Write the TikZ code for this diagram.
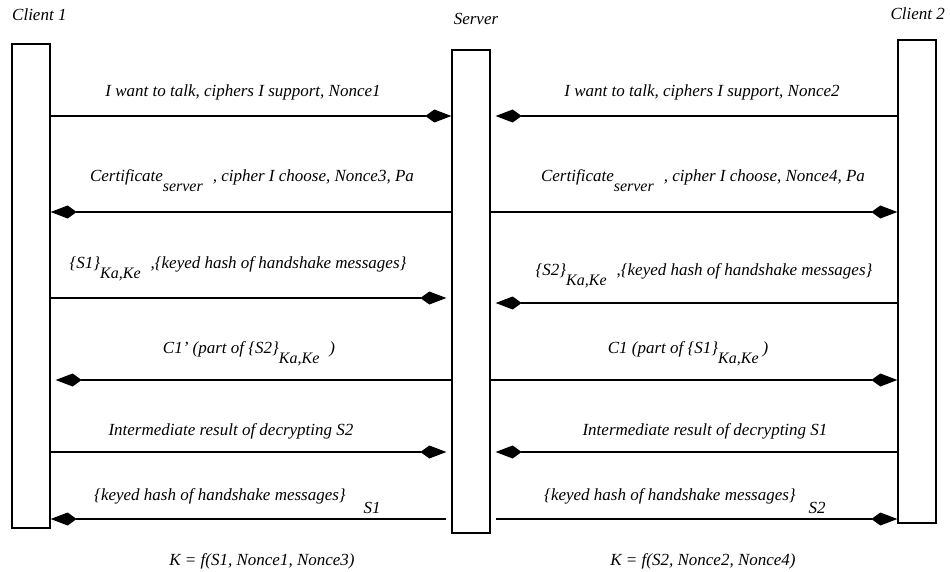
\documentclass[tikz,border=0pt]{standalone}
\usepackage{fontspec}
\setmainfont{Liberation Serif}
\usetikzlibrary{arrows.meta}
\newcommand{\lowsub}[1]{\raisebox{-10pt}{\fontsize{16}{18}\selectfont #1}}

\begin{document}
\begin{tikzpicture}[x=1pt, y=-1pt,
  every node/.style={font=\fontsize{17}{19}\selectfont\itshape, inner sep=0pt},
  lifebox/.style={draw, line width=1.3pt, minimum width=38pt},
  msg/.style={line width=1.3pt, -{Kite[length=26pt,width=13pt,inset=9pt]}}]
\useasboundingbox (0,0) rectangle (950,572);
\node [lifebox, minimum height=484pt] (c1) at (31,286) {};
\node [lifebox, minimum height=483pt] (srv) at (471,291.5) {};
\node [lifebox, minimum height=483pt] (c2) at (917,281.5) {};
\node [anchor=base west] (c1name) at (12,21) {Client 1};
\node [anchor=base] (srvname) at (476,25) {Server};
\node [anchor=base east] (c2name) at (945,20) {Client 2};

\draw [msg] (c1.east |- 0,116) -- (srv.west |- 0,116);
\draw [msg, shorten >=5pt] (c2.west |- 0,116) -- (srv.east |- 0,116);
\node [anchor=base] (hello1) at (243,97) {I want to talk, ciphers I support, Nonce1};
\node [anchor=base] (hello2) at (702,97) {I want to talk, ciphers I support, Nonce2};

\draw [msg] (srv.west |- 0,212) -- (c1.east |- 0,212);
\draw [msg] (srv.east |- 0,212) -- (c2.west |- 0,212);
\node [anchor=base] (cert1) at (252,182) {Certificate\lowsub{server}\hspace{10pt}, cipher I choose, Nonce3, Pa};
\node [anchor=base] (cert2) at (703,182) {Certificate\lowsub{server}\hspace{10pt}, cipher I choose, Nonce4, Pa};

\draw [msg, shorten >=5pt] (c1.east |- 0,298) -- (srv.west |- 0,298);
\draw [msg, shorten >=5pt] (c2.west |- 0,303) -- (srv.east |- 0,303);
\node [anchor=base] (sec1) at (238,268) {\{S1\}\lowsub{Ka,Ke}\hspace{10pt},\{keyed hash of handshake messages\}};
\node [anchor=base] (sec2) at (704,275) {\{S2\}\lowsub{Ka,Ke}\hspace{10pt},\{keyed hash of handshake messages\}};

\draw [msg, shorten >=5pt] (srv.west |- 0,380) -- (c1.east |- 0,380);
\draw [msg] (srv.east |- 0,380) -- (c2.west |- 0,380);
\node [anchor=base] (part1) at (249,353) {C1' (part of \{S2\}\lowsub{Ka,Ke}\hspace{10pt})};
\node [anchor=base] (part2) at (688,353) {C1 (part of \{S1\}\lowsub{Ka,Ke}\hspace{4pt})};

\draw [msg, shorten >=5pt] (c1.east |- 0,452) -- (srv.west |- 0,452);
\draw [msg, shorten >=5pt] (c2.west |- 0,452) -- (srv.east |- 0,452);
\node [anchor=base] (inter1) at (231,435) {Intermediate result of decrypting S2};
\node [anchor=base] (inter2) at (705,435) {Intermediate result of decrypting S1};

\draw [msg, shorten <=5pt] (srv.west |- 0,519) -- (c1.east |- 0,519);
\draw [msg, shorten <=5pt] (srv.east |- 0,519) -- (c2.west |- 0,519);
\node [anchor=base] (hash1) at (220,500) {\{keyed hash of handshake messages\}};
\node [anchor=base] (s1) at (372,513) {S1};
\node [anchor=base] (hash2) at (670,500) {\{keyed hash of handshake messages\}};
\node [anchor=base] (s2) at (817,513) {S2};

\node [anchor=base] (key1) at (262,565) {K = f(S1, Nonce1, Nonce3)};
\node [anchor=base] (key2) at (703,565) {K = f(S2, Nonce2, Nonce4)};
\end{tikzpicture}
\end{document}
